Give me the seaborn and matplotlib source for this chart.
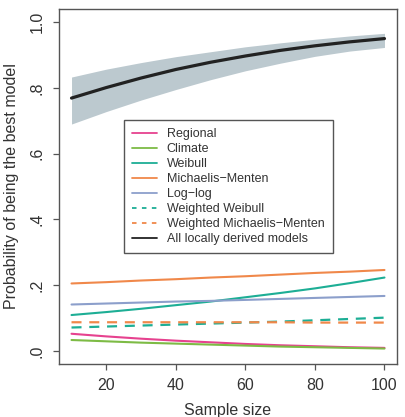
import numpy as np
import pandas as pd
import matplotlib
matplotlib.use("Agg")
import matplotlib.pyplot as plt
import seaborn as sns
from matplotlib.lines import Line2D

sample_size = [10, 20, 30, 40, 50, 60, 70, 80, 90, 100]

regional = [0.052, 0.044, 0.037, 0.031, 0.026, 0.021, 0.017, 0.014, 0.011, 0.009]
climate = [0.033, 0.029, 0.025, 0.022, 0.019, 0.016, 0.013, 0.011, 0.009, 0.007]
weibull = [0.109, 0.118, 0.128, 0.139, 0.150, 0.163, 0.176, 0.190, 0.206, 0.223]
mich_menten = [0.205, 0.209, 0.214, 0.218, 0.223, 0.227, 0.232, 0.237, 0.241, 0.246]
loglog = [0.141, 0.144, 0.147, 0.150, 0.152, 0.155, 0.158, 0.161, 0.164, 0.167]
w_weibull = [0.071, 0.074, 0.077, 0.080, 0.083, 0.086, 0.089, 0.093, 0.097, 0.101]
w_mich_menten = [0.087, 0.087, 0.087, 0.087, 0.087, 0.087, 0.087, 0.086, 0.086, 0.086]
all_local = [0.769, 0.801, 0.830, 0.856, 0.878, 0.897, 0.914, 0.928, 0.940, 0.950]
all_local_upper = [0.833, 0.857, 0.877, 0.895, 0.910, 0.925, 0.937, 0.948, 0.958, 0.966]
all_local_lower = [0.690, 0.728, 0.763, 0.795, 0.825, 0.852, 0.875, 0.896, 0.912, 0.923]

series_names = ["Regional", "Climate", "Weibull", "Michaelis\u2212Menten", "Log\u2212log",
                "Weighted Weibull", "Weighted Michaelis\u2212Menten", "All locally derived models"]
series_values = [regional, climate, weibull, mich_menten, loglog, w_weibull, w_mich_menten, all_local]
colors = ["#E6428F", "#7DBB45", "#1DAE95", "#F0884A", "#8C9FCB", "#1DAE95", "#F0884A", "#222222"]
dashed = [False, False, False, False, False, True, True, False]
widths = [1.5, 1.5, 1.5, 1.5, 1.5, 1.6, 1.6, 2.3]

sns.set_style("white")
plt.rcParams["font.family"] = ["Liberation Sans", "DejaVu Sans"]

fig = plt.figure(figsize=(4.05, 4.17), dpi=100)
ax = fig.add_axes([59 / 405, 53 / 417, 338 / 405, 355 / 417])

ax.fill_between(sample_size, all_local_lower, all_local_upper, color="#BCC9CF", lw=0)

for name, vals, c, d, w in zip(series_names, series_values, colors, dashed, widths):
    df = pd.DataFrame({"x": sample_size, "y": vals})
    sns.lineplot(data=df, x="x", y="y", ax=ax, color=c, lw=w,
                 linestyle=(0, (4.5, 3.5)) if d else "-")

ax.set_xlim(6.4, 103.6)
ax.set_ylim(-0.04, 1.04)
ax.set_xticks([20, 40, 60, 80, 100])
ax.set_xticklabels(["20", "40", "60", "80", "100"])
ax.set_yticks([0, 0.2, 0.4, 0.6, 0.8, 1.0])
ax.set_yticklabels([".0", ".2", ".4", ".6", ".8", "1.0"], rotation=90, va="center")

txt = "#333333"
ax.tick_params(axis="both", length=4.5, width=0.9, color="#555555", labelsize=11.5,
               labelcolor=txt, direction="out", bottom=True, left=True)
ax.tick_params(axis="x", pad=5.5)
ax.tick_params(axis="y", pad=6)
for s in ax.spines.values():
    s.set_color("#555555")
    s.set_linewidth(1.0)

ax.set_xlabel("Sample size", fontsize=11.5, color=txt)
ax.set_ylabel("Probability of being the best model", fontsize=11.5, color=txt)
ax.xaxis.set_label_coords(0.5, -0.13)
ax.xaxis.label.set_va("center")
ax.yaxis.set_label_coords(-0.142, 0.5)
ax.yaxis.label.set_va("center")

handles = [Line2D([0], [0], color=c, lw=1.3,
                  linestyle=(0, (2.5, 3)) if d else "-")
           for n, c, d in zip(series_names, colors, dashed)]
leg = ax.legend(handles, series_names, loc="center", bbox_to_anchor=(0.5, 0.5),
                fontsize=9, frameon=True, fancybox=False, framealpha=1,
                edgecolor="#555555", handlelength=2.0, handletextpad=0.8,
                labelspacing=0.24, borderpad=0.65, borderaxespad=0)
leg.get_frame().set_linewidth(1.0)
for t in leg.get_texts():
    t.set_color(txt)

fig.savefig("out.png", dpi=100)
